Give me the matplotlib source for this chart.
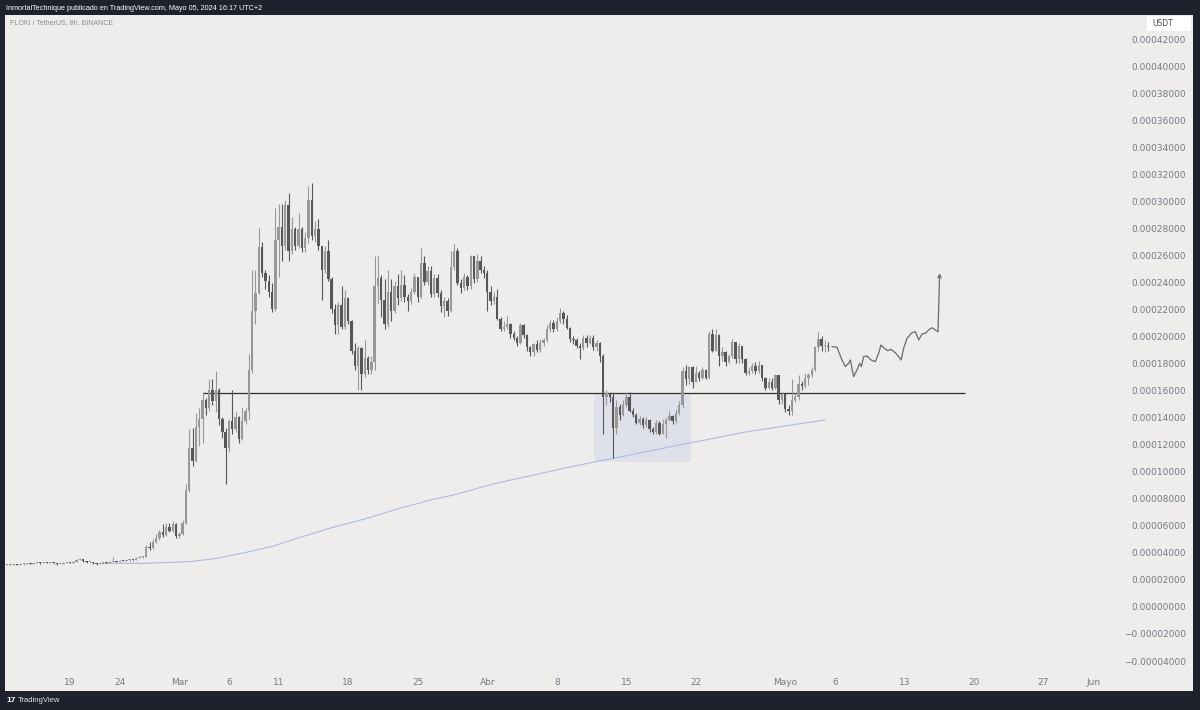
import matplotlib
matplotlib.use("Agg")
import matplotlib.pyplot as plt
import matplotlib.transforms as mtransforms
from matplotlib.patches import Rectangle
import numpy as np
import pandas as pd

# FLOKI / USDT 8h candles, prices in units of 1e-5 USDT
first_open = 3.18
close = [
    3.20, 3.20, 3.22, 3.20, 3.22, 3.28, 3.30, 3.28, 3.32, 3.35,
    3.33, 3.36, 3.34, 3.35, 3.30, 3.25, 3.27, 3.35, 3.36, 3.34,
    3.42, 3.55, 3.60, 3.45, 3.40, 3.42, 3.30, 3.25, 3.30, 3.35,
    3.33, 3.40, 3.45, 3.43, 3.50, 3.48, 3.52, 3.55, 3.53, 3.70,
    3.75, 3.80, 4.50, 4.40, 4.90, 5.20, 5.60, 5.40, 6.00, 5.70,
    6.20, 5.30, 5.50, 6.30, 8.70, 11.8, 10.9, 13.4, 14.0, 15.4,
    14.8, 16.1, 15.3, 16.1, 14.0, 13.0, 11.8, 13.8, 13.2, 14.1,
    12.5, 13.8, 14.6, 17.6, 22.0, 23.3, 26.7, 24.8, 24.2, 23.4,
    22.1, 27.2, 28.2, 26.8, 29.8, 26.4, 28.0, 26.8, 28.0, 26.6,
    27.4, 30.2, 27.5, 28.0, 26.8, 25.0, 26.4, 24.3, 22.1, 20.9,
    22.4, 20.8, 22.9, 21.2, 19.0, 17.9, 19.2, 17.3, 18.5, 17.6,
    18.2, 23.8, 24.4, 22.8, 21.0, 23.4, 22.0, 23.8, 22.9, 23.9,
    23.0, 22.7, 23.4, 24.5, 23.0, 25.5, 24.1, 24.9, 23.2, 24.4,
    23.3, 22.3, 22.7, 22.0, 25.2, 26.4, 24.0, 23.7, 24.5, 23.8,
    26.0, 24.3, 25.7, 25.0, 24.8, 23.4, 22.7, 23.0, 21.4, 20.6,
    20.8, 21.0, 20.3, 20.0, 19.6, 20.9, 20.2, 19.3, 18.9, 19.5,
    19.1, 19.6, 19.8, 20.6, 21.1, 20.6, 21.2, 21.8, 21.4, 20.7,
    19.9, 19.8, 19.4, 19.2, 20.0, 19.6, 20.0, 19.3, 19.6, 18.6,
    15.6, 15.9, 15.6, 13.3, 14.9, 14.3, 15.0, 15.6, 14.6, 14.3,
    13.7, 14.0, 13.5, 13.9, 13.2, 13.0, 13.7, 12.9, 13.6, 13.9,
    14.2, 13.8, 14.4, 15.0, 17.5, 16.9, 17.8, 16.7, 17.4, 17.0,
    17.6, 17.0, 20.3, 19.0, 20.2, 18.6, 18.9, 18.2, 18.6, 19.7,
    18.4, 19.4, 18.4, 17.4, 17.5, 17.9, 17.5, 18.0, 17.0, 16.3,
    16.7, 16.3, 17.2, 15.4, 15.8, 14.7, 14.6, 15.4, 15.6, 16.6,
    16.4, 17.0, 17.2, 17.6, 19.3, 19.9, 19.4, 19.4, 19.3,
]
high = [
    3.25, 3.25, 3.27, 3.25, 3.27, 3.32, 3.35, 3.33, 3.36, 3.40,
    3.38, 3.40, 3.38, 3.40, 3.36, 3.32, 3.31, 3.38, 3.40, 3.39,
    3.46, 3.60, 3.70, 3.62, 3.48, 3.46, 3.43, 3.32, 3.34, 3.39,
    3.38, 3.44, 3.80, 3.50, 3.54, 3.55, 3.57, 3.60, 3.58, 3.76,
    3.82, 3.86, 4.65, 4.90, 5.10, 5.50, 5.80, 6.20, 6.30, 6.30,
    6.40, 6.25, 5.60, 6.50, 9.20, 13.2, 13.3, 14.4, 14.8, 16.0,
    15.5, 16.9, 16.9, 17.5, 16.3, 14.1, 13.3, 14.0, 16.1, 14.5,
    14.2, 14.9, 14.8, 18.8, 25.0, 25.0, 28.1, 27.1, 25.0, 24.6,
    24.0, 29.6, 29.9, 29.9, 30.2, 30.7, 28.9, 28.2, 29.2, 28.2,
    27.8, 31.2, 31.4, 28.6, 28.8, 26.8, 26.8, 27.2, 24.5, 22.5,
    22.6, 23.8, 23.5, 23.0, 21.3, 19.6, 19.4, 19.3, 19.8, 18.6,
    18.6, 26.0, 26.0, 24.6, 24.3, 25.0, 24.3, 24.2, 24.7, 25.0,
    24.6, 23.2, 23.7, 24.8, 24.3, 26.6, 26.0, 25.3, 25.3, 24.7,
    24.7, 23.5, 23.0, 22.9, 26.4, 26.9, 26.6, 24.3, 24.8, 24.6,
    26.1, 26.0, 26.2, 26.0, 25.3, 25.0, 23.8, 23.4, 23.6, 21.5,
    21.2, 21.6, 21.1, 20.5, 20.1, 21.1, 21.0, 20.3, 19.4, 19.6,
    19.8, 19.9, 20.0, 20.9, 21.3, 21.3, 21.5, 22.2, 22.0, 21.7,
    20.8, 20.1, 20.0, 19.6, 20.2, 20.2, 20.2, 20.2, 19.8, 19.7,
    18.8, 16.1, 16.0, 15.9, 15.4, 15.1, 15.4, 16.0, 16.0, 14.8,
    14.4, 14.2, 14.1, 14.1, 14.0, 13.4, 13.9, 13.8, 14.0, 14.1,
    14.6, 14.3, 14.7, 15.3, 17.8, 18.0, 17.9, 17.9, 17.9, 17.5,
    17.8, 17.7, 20.5, 20.6, 20.6, 20.3, 19.3, 19.0, 18.8, 19.9,
    19.7, 19.6, 19.4, 18.5, 17.8, 18.1, 18.2, 18.3, 18.0, 17.1,
    17.0, 17.0, 17.3, 17.2, 16.0, 15.9, 15.0, 16.9, 15.9, 17.2,
    16.8, 17.4, 17.4, 17.8, 19.4, 20.4, 20.1, 19.8, 19.7,
]
low = [
    3.15, 3.15, 3.17, 3.15, 3.17, 3.20, 3.25, 3.24, 3.26, 3.30,
    3.28, 3.30, 3.30, 3.30, 3.26, 3.20, 3.22, 3.25, 3.31, 3.30,
    3.33, 3.40, 3.52, 3.42, 3.36, 3.36, 3.27, 3.20, 3.22, 3.28,
    3.29, 3.31, 3.38, 3.38, 3.41, 3.44, 3.46, 3.49, 3.48, 3.52,
    3.66, 3.70, 3.78, 4.30, 4.35, 4.80, 5.00, 5.25, 5.35, 5.60,
    5.65, 5.20, 5.20, 5.40, 6.20, 8.60, 10.5, 10.8, 12.0, 12.2,
    14.3, 14.6, 15.0, 14.5, 13.5, 12.6, 9.20, 11.5, 12.9, 13.0,
    12.2, 12.4, 13.6, 14.0, 17.4, 21.0, 23.2, 24.5, 23.6, 23.0,
    21.9, 22.0, 24.5, 25.7, 26.5, 25.7, 26.2, 26.5, 26.6, 26.3,
    26.3, 27.0, 27.2, 27.1, 26.5, 22.8, 24.8, 24.2, 21.8, 20.3,
    20.3, 20.6, 20.6, 21.0, 18.8, 17.6, 16.1, 16.1, 17.1, 17.3,
    17.3, 17.6, 22.5, 21.5, 20.6, 20.8, 21.2, 21.8, 22.4, 22.7,
    22.6, 22.0, 22.5, 23.2, 22.6, 22.9, 23.9, 23.9, 23.0, 23.0,
    23.0, 21.9, 21.5, 21.6, 21.9, 25.0, 23.9, 23.3, 23.5, 23.5,
    23.6, 24.0, 24.1, 24.8, 24.4, 22.0, 22.4, 22.5, 21.3, 20.5,
    20.5, 20.6, 20.0, 19.8, 19.4, 19.5, 20.0, 19.0, 18.6, 18.6,
    18.9, 18.9, 19.4, 19.7, 20.4, 20.4, 20.5, 21.1, 21.0, 20.6,
    19.7, 19.5, 19.2, 18.4, 19.1, 19.3, 19.5, 19.1, 19.0, 18.2,
    12.9, 15.0, 15.2, 11.1, 12.9, 13.9, 14.2, 14.9, 14.5, 14.1,
    13.6, 13.5, 13.3, 13.4, 13.0, 12.9, 12.9, 12.8, 12.9, 12.6,
    13.8, 13.6, 13.7, 14.3, 14.8, 16.5, 16.6, 16.3, 16.7, 16.8,
    16.9, 16.9, 16.9, 18.9, 19.0, 17.9, 18.3, 17.9, 18.1, 18.5,
    18.1, 18.1, 18.1, 17.2, 17.2, 17.4, 17.3, 17.4, 16.8, 16.1,
    16.2, 16.1, 16.2, 15.1, 15.1, 14.5, 14.3, 14.3, 15.2, 15.4,
    16.1, 16.3, 16.5, 17.1, 17.5, 19.0, 19.0, 18.9, 19.0,
]

# 200 MA: (days after 19 Feb, price)
ma_days = [3.0, 7.4, 12.1, 14.8, 18.1, 20.5, 23.2, 26.5, 29.9, 33.2,
           36.6, 38.6, 42.6, 46.7, 50.0, 53.4, 54.7, 61.4, 68.2, 76.0]
ma_vals = [3.30, 3.30, 3.43, 3.67, 4.17, 4.59, 5.23, 5.97, 6.63, 7.37,
           8.04, 8.36, 9.17, 9.84, 10.38, 10.89, 11.07, 12.06, 13.04, 13.91]

# support line and consolidation box
support_level = 15.9
support_days = (13.4, 90.1)
box_days = (52.7, 62.5)
box_prices = (10.8, 15.85)

# hand-drawn projection path (days, price)
proj_days = [76.71, 77.21, 77.71, 78.05, 78.38, 78.55, 78.88, 79.22, 79.49, 79.66,
             79.89, 80.23, 80.63, 81.07, 81.40, 81.64, 81.97, 82.31, 82.65, 83.08,
             83.41, 83.66, 83.92, 84.26, 84.76, 85.10, 85.43, 85.77, 86.10, 86.43,
             86.78, 87.11, 87.38, 87.54]
proj_vals = [19.33, 19.28, 18.34, 17.85, 18.10, 18.34, 17.11, 17.60, 18.10, 17.85,
             18.59, 18.64, 18.34, 18.22, 18.84, 19.45, 19.21, 19.03, 19.13, 18.88,
             18.59, 18.34, 19.21, 19.95, 20.36, 20.44, 19.82, 20.27, 20.32, 20.56,
             20.73, 20.56, 20.44, 24.76]

tick_dates = ['2024-02-19', '2024-02-24', '2024-03-01', '2024-03-06', '2024-03-11',
              '2024-03-18', '2024-03-25', '2024-04-01', '2024-04-08', '2024-04-15',
              '2024-04-22', '2024-05-01', '2024-05-06', '2024-05-13', '2024-05-20',
              '2024-05-27', '2024-06-01']
tick_labels = ['19', '24', 'Mar', '6', '11', '18', '25', 'Abr', '8', '15', '22',
               'Mayo', '6', '13', '20', '27', 'Jun']
price_ticks = list(range(-4, 43, 2))

W, H = 1200, 710
t0 = pd.Timestamp('2024-02-19')
times = pd.date_range('2024-02-12 16:00', periods=len(close), freq='8h')
x = ((times - t0) / pd.Timedelta('1D')).to_numpy()
c = np.array(close)
o = np.concatenate([[first_open], c[:-1]])
hi = np.array(high)
lo = np.array(low)
up = c >= o

fig = plt.figure(figsize=(W / 100, H / 100), dpi=100, facecolor='#1e222d')
fig.patches.append(Rectangle((5 / W, 1 - 691 / H), 1188 / W, 676 / H,
                             transform=fig.transFigure, facecolor='#eeedeb',
                             edgecolor='none', zorder=-10))

ax = fig.add_axes([5 / W, 1 - 670 / H, 1117 / W, 655 / H])
ax.set_zorder(2)
ax.set_facecolor('none')
ax.set_xlim(-6.55, 105.9)
ax.set_ylim(-4.59, 43.86)
for s in ax.spines.values():
    s.set_visible(False)

# box and support line
ax.add_patch(Rectangle((box_days[0], box_prices[0]), box_days[1] - box_days[0],
                       box_prices[1] - box_prices[0], facecolor='#dfe1ea',
                       edgecolor='none', zorder=1))
ax.hlines(support_level, support_days[0], support_days[1], color='#2e2e2e', lw=0.9, zorder=2)

# moving average
ax.plot(ma_days, ma_vals, color='#b0b8e2', lw=0.8, zorder=2)

# candles
up_col, dn_col = '#989898', '#575757'
cols = np.where(up, up_col, dn_col)
ax.vlines(x, lo, hi, colors=cols, lw=0.8, zorder=3)
bottom = np.minimum(o, c)
height = np.maximum(np.abs(c - o), 0.07)
ax.bar(x, height, bottom=bottom, width=0.24, color=cols, edgecolor='none', zorder=4)

# projection drawing
ax.plot(proj_days[:-1], proj_vals[:-1], color='#6a6a6a', lw=0.9, zorder=5)
ax.annotate('', xy=(proj_days[-1], proj_vals[-1]), xytext=(proj_days[-2], proj_vals[-2]),
            arrowprops=dict(arrowstyle='->', color='#6a6a6a', lw=0.9,
                            mutation_scale=6, shrinkA=0, shrinkB=0), zorder=5)

# date axis
tick_x = [(pd.Timestamp(d) - t0) / pd.Timedelta('1D') for d in tick_dates]
ax.set_xticks(tick_x)
ax.set_xticklabels(tick_labels, fontsize=6.5, color='#767984')
ax.tick_params(axis='x', length=0, pad=5.5)
ax.set_yticks([])

# price axis
trans = mtransforms.blended_transform_factory(fig.transFigure, ax.transData)
for v in price_ticks:
    lab = f"{abs(v) * 1e-5:.8f}"
    if v < 0:
        lab = '\u2212' + lab
    ax.text(1186 / W, v, lab, transform=trans, ha='right', va='center',
            fontsize=6.5, color='#767984', clip_on=False)

fig.patches.append(Rectangle((1147 / W, 1 - 31 / H), 44 / W, 15 / H,
                             transform=fig.transFigure, facecolor='white',
                             edgecolor='none', zorder=-5))
fig.text(1152 / W, 1 - 23.5 / H, 'USDT', fontsize=5.5, color='#4a4a4a', va='center')

# header and footer
fig.text(6 / W, 1 - 8 / H,
         'InmortalTechnique publicado en TradingView.com, Mayo 05, 2024 16:17 UTC+2',
         fontsize=5.2, color='white', va='center', family=['Liberation Sans', 'DejaVu Sans'])
fig.text(10 / W, 1 - 23 / H, 'FLOKI / TetherUS, 8h, BINANCE', fontsize=5.0,
         color='#8a8a8a', va='center', family=['Liberation Sans', 'DejaVu Sans'])
fig.text(6 / W, 1 - 700 / H, '17', fontsize=6, color='white', weight='bold',
         va='center', family=['Liberation Sans', 'DejaVu Sans'])
fig.text(18 / W, 1 - 700 / H, 'TradingView', fontsize=5.5, color='#e6e6e6',
         va='center', family=['Liberation Sans', 'DejaVu Sans'])

fig.savefig('out.png', dpi=100, facecolor=fig.get_facecolor())
